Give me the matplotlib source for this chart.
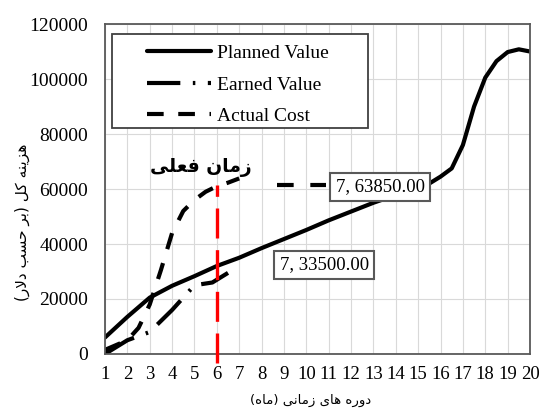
import matplotlib.pyplot as plt
from matplotlib.patches import Rectangle

# ---------------------------------------------------------------------------
# Data
# ---------------------------------------------------------------------------
pv_month = [1, 2, 3, 4, 5, 6, 7, 8, 9, 10, 11, 12, 13, 14, 15, 15.5, 16,
            16.5, 17, 17.5, 18, 18.5, 19, 19.5, 20]
pv_cost = [6000, 13500, 20500, 24800, 28300, 32000, 35000, 38500, 41800,
           45100, 48600, 51800, 55000, 57800, 60500, 62000, 64500,
           67500, 76000, 90000, 100500, 106500, 109800, 110800, 110000]

ev_month = [1, 2, 3, 3.5, 4, 5, 5.8, 6.5]
ev_cost = [0, 5000, 8000, 12000, 16000, 25000, 26000, 29500]

ac_month = [1, 2, 2.5, 3, 3.5, 4, 4.5, 5, 5.5, 6, 6.5, 7]
ac_cost = [1500, 5000, 9500, 18000, 30500, 44000, 52000, 56000, 59000,
           61000, 62300, 63850]

# dashed leader running towards the AC data label
ac_leader_month = [8.7, 10.9]
ac_leader_cost = [61500, 61500]

current_month = 6
current_line_cost = [-3300, 61500]

months = list(range(1, 21))
cost_ticks = [0, 20000, 40000, 60000, 80000, 100000, 120000]

# Persian strings, written in shaped (presentation) forms, visual order,
# since matplotlib does no bidi / arabic shaping itself
label_now = "\ufbfd\ufee0\ufecc\ufed3 \ufee5\ufe8e\ufee3\ufeaf"             # زمان فعلی
ylabel_fa = ("(\ufead\ufefb\ufea9 \ufe90\ufeb4\ufea3 \ufeae\ufe91) "
             "\ufede\ufb90 \ufeea\ufee8\ufbfe\ufeb0\ufeeb")                  # هزینه کل (بر حسب دلار)
xlabel_fa = ("(\ufee9\ufe8e\ufee3) \ufbfd\ufee7\ufe8e\ufee3\ufeaf "
             "\ufbfc\ufe8e\ufeeb \ufee9\ufead\ufeed\ufea9")                  # دوره های زمانی (ماه)

# ---------------------------------------------------------------------------
# Plot
# ---------------------------------------------------------------------------
serif = "Liberation Serif"
fa_font = "DejaVu Sans"

fig = plt.figure(figsize=(5.4, 4.12), dpi=100)
ax = fig.add_axes([0.1944, 0.1408, 0.7871, 0.8009])

lw = 3.0
ax.plot(pv_month, pv_cost, color='black', lw=lw, solid_capstyle='round',
        label='Planned Value')
ax.plot(ev_month, ev_cost, color='black', lw=lw, dashes=(8.0, 3.0, 0.6, 3.0),
        label='Earned Value')
ax.plot(ac_month, ac_cost, color='black', lw=lw, dashes=(4.0, 3.5),
        label='Actual Cost')
ax.plot(ac_leader_month, ac_leader_cost, color='black', lw=lw, dashes=(4.0, 4.0))

ax.plot([current_month, current_month], current_line_cost, color='#ff0000',
        lw=2.4, dashes=(9.0, 3.5), clip_on=False, zorder=4)

ax.set_xlim(1, 20)
ax.set_ylim(0, 120000)
ax.set_xticks(months)
ax.set_yticks(cost_ticks)
ax.set_xticklabels([str(m) for m in months], fontfamily=serif, fontsize=13.5)
ax.set_yticklabels([str(c) for c in cost_ticks], fontfamily=serif, fontsize=14)
ax.tick_params(axis='both', length=0, colors='black')
ax.tick_params(axis='y', pad=12)
ax.tick_params(axis='x', pad=9)

ax.grid(True, color='#d9d9d9', lw=0.8)
ax.set_axisbelow(True)
for sp in ax.spines.values():
    sp.set_color('#595959')
    sp.set_linewidth(1.3)

ax.set_xlabel(xlabel_fa, fontfamily=fa_font, fontsize=9.5)
ax.xaxis.set_label_coords(0.483, -0.122)
ax.set_ylabel(ylabel_fa, fontfamily=fa_font, fontsize=11)
ax.yaxis.set_label_coords(-0.176, 0.40)

ax.text(5.3, 68000, label_now, fontfamily=fa_font, fontsize=13.5,
        fontweight='bold', ha='center', va='center')

box = dict(boxstyle='square,pad=0.3', fc='white', ec='#595959', lw=1.5)
ax.text(13.3, 60700, '7, 63850.00', fontfamily=serif, fontsize=13.5,
        ha='center', va='center', bbox=box, zorder=5)
ax.text(10.8, 32400, '7, 33500.00', fontfamily=serif, fontsize=13.5,
        ha='center', va='center', bbox=box, zorder=5)

# legend: Excel style box, wider than its content
ax.add_patch(Rectangle((0.0165, 0.685), 0.6025, 0.285, transform=ax.transAxes,
                       fc='white', ec='#404040', lw=1.3, zorder=5))
ax.legend(loc='upper left', bbox_to_anchor=(0.08, 0.962), frameon=False,
          prop={'family': serif, 'size': 14}, handlelength=3.3,
          handletextpad=0.3, labelspacing=0.72, borderaxespad=0.0)

fig.savefig('out.png', dpi=100)
